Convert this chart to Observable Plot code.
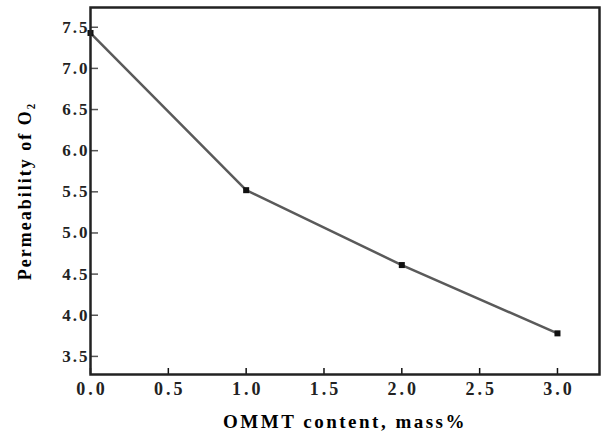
<!DOCTYPE html>
<html>
<head>
<meta charset="utf-8">
<script src="https://cdn.jsdelivr.net/npm/d3@7"></script>
<script src="https://cdn.jsdelivr.net/npm/@observablehq/plot@0.6"></script>
<style>
  html, body { margin: 0; padding: 0; background: #fff; }
  svg { font-family: "Liberation Serif", serif; font-weight: bold; }
  g[aria-label="y-axis tick label"] text { letter-spacing: 2px; }
  g[aria-label="x-axis tick label"] text { letter-spacing: 3px; }
  g[aria-label="y-axis label"] text { font-size: 18px; letter-spacing: 2px; }
  g[aria-label="x-axis label"] text { font-size: 19px; letter-spacing: 2.5px; }
</style>
</head>
<body>
<div id="chart"></div>
<script>
const content = [0.0, 1.0, 2.0, 3.0];
const permeability = [7.43, 5.52, 4.61, 3.78];
const xTicks = [0.0, 0.5, 1.0, 1.5, 2.0, 2.5, 3.0];
const yTicks = [3.5, 4.0, 4.5, 5.0, 5.5, 6.0, 6.5, 7.0, 7.5];

const data = content.map((c, i) => ({x: c, y: permeability[i]}));

const chart = Plot.plot({
  width: 606,
  height: 443,
  marginLeft: 90,
  marginRight: 7,
  marginTop: 7,
  marginBottom: 69,
  x: {domain: [0, 3.27]},
  y: {domain: [3.28, 7.74]},
  marks: [
    Plot.line(data, {x: "x", y: "y", stroke: "#5a5a5a", strokeWidth: 2.5}),
    Plot.dot(data, {x: "x", y: "y", symbol: "square", r: 3.4, fill: "#111", stroke: "none"}),
    Plot.axisX({ticks: xTicks, tickSize: 0, tickPadding: 8, tickFormat: d3.format(".1f"), fill: "#222", dx: 1.5,
      fontSize: 18, label: null}),
    Plot.axisX({ticks: [], tickSize: 0,
      label: "OMMT content, mass%", labelAnchor: "center", labelArrow: "none", labelOffset: 53}),
    Plot.axisX({ticks: xTicks, tickSize: -6, tickFormat: () => "", stroke: "#111", strokeWidth: 1.5, label: null}),
    Plot.axisY({ticks: yTicks, tickSize: 0, tickPadding: 1, tickFormat: d3.format(".1f"), fill: "#222",
      fontSize: 17, label: null}),
    Plot.axisY({ticks: [], tickSize: 0,
      label: "Permeability of O₂", labelAnchor: "center", labelArrow: "none", labelOffset: 72}),
    Plot.axisY({ticks: yTicks, tickSize: -8, tickFormat: () => "", stroke: "#555", strokeWidth: 1.5, label: null}),
    Plot.frame({stroke: "#222", strokeWidth: 2.5})
  ]
});
document.getElementById("chart").appendChild(chart);
</script>
</body>
</html>
